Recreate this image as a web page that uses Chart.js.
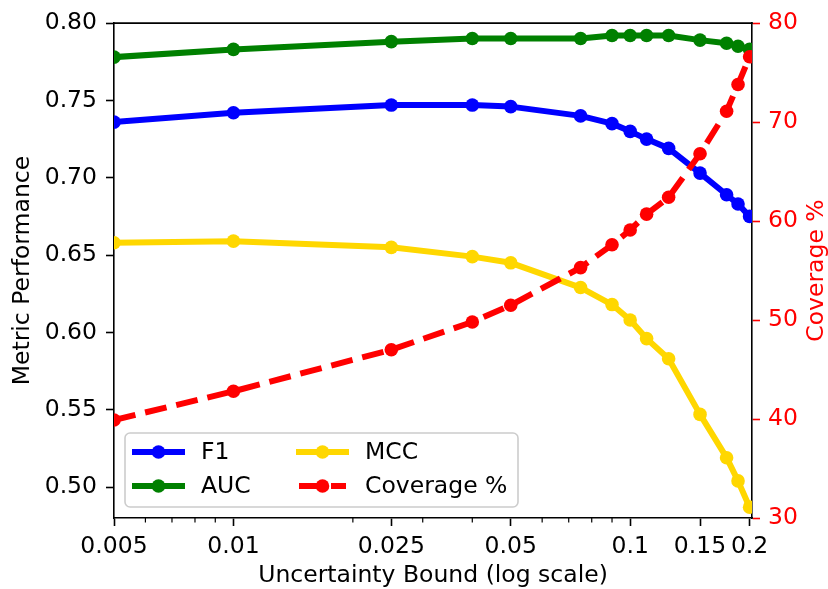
<!DOCTYPE html>
<html>
<head>
    <title>Uncertainty Bound Chart</title>
    <script src="https://cdn.jsdelivr.net/npm/chart.js"></script>
    <style>
        body { margin: 0; background: #fff; }
        #wrap { width: 828px; height: 589px; }
    </style>
</head>
<body>
    <div id="wrap"><canvas id="myChart"></canvas></div>
    <script>
        // data
        const uncertaintyBounds = [0.005, 0.01, 0.025, 0.04, 0.05, 0.075, 0.09, 0.1, 0.11, 0.125, 0.15, 0.175, 0.187, 0.2];
        const f1 = [0.736, 0.742, 0.747, 0.747, 0.746, 0.740, 0.735, 0.730, 0.725, 0.719, 0.703, 0.689, 0.683, 0.675];
        const auc = [0.778, 0.783, 0.788, 0.790, 0.790, 0.790, 0.792, 0.792, 0.792, 0.792, 0.789, 0.787, 0.785, 0.783];
        const mcc = [0.658, 0.659, 0.655, 0.649, 0.645, 0.629, 0.618, 0.608, 0.596, 0.583, 0.547, 0.519, 0.504, 0.487];
        const coverage = [39.9, 42.8, 47.0, 49.8, 51.5, 55.3, 57.6, 59.1, 60.7, 62.4, 66.8, 71.1, 73.8, 76.6];

        const xTicks = [0.005, 0.01, 0.025, 0.05, 0.1, 0.15, 0.2];
        const xTickLabels = ['0.005', '0.01', '0.025', '0.05', '0.1', '0.15', '0.2'];
        const xMinorTicks = [0.006, 0.007, 0.008, 0.009, 0.02, 0.03, 0.04, 0.06, 0.07, 0.08, 0.09];
        const metricTicks = [0.50, 0.55, 0.60, 0.65, 0.70, 0.75, 0.80];
        const coverageTicks = [30, 40, 50, 60, 70, 80];

        const FONT = 'DejaVu Sans';
        const FS = 23.5;
        Chart.defaults.font.family = FONT;
        Chart.defaults.font.size = FS;
        Chart.defaults.color = '#000';

        const pts = ys => uncertaintyBounds.map((x, i) => ({ x: x, y: ys[i] }));

        function series(label, ys, color, axis, order, dash) {
            return {
                label: label,
                data: pts(ys),
                yAxisID: axis,
                order: order,
                borderColor: color,
                backgroundColor: color,
                borderWidth: 6,
                borderDash: dash || [],
                borderCapStyle: dash ? 'butt' : 'square',
                borderJoinStyle: 'round',
                pointRadius: 6.8,
                pointHoverRadius: 6.8,
                pointBorderWidth: 0,
                pointBackgroundColor: color,
                tension: 0,
                clip: 0
            };
        }

        const legendItems = [
            { label: 'F1', color: '#0000ff', dash: null },
            { label: 'AUC', color: '#008000', dash: null },
            { label: 'MCC', color: '#ffd700', dash: null },
            { label: 'Coverage %', color: '#ff0000', dash: [22, 10] }
        ];

        // top spine, minor x ticks, right axis title (reads upward) and the in-axes legend
        const extras = {
            id: 'extras',
            afterDatasetsDraw(chart) {
                const ctx = chart.ctx;
                const a = chart.chartArea;
                const x = chart.scales.x;
                ctx.save();
                ctx.strokeStyle = '#000';
                ctx.lineWidth = 1.6;
                ctx.beginPath();
                ctx.moveTo(a.left - 0.8, a.top);
                ctx.lineTo(a.right + 0.8, a.top);
                ctx.stroke();

                ctx.lineWidth = 1.2;
                xMinorTicks.forEach(v => {
                    const px = x.getPixelForValue(v);
                    ctx.beginPath();
                    ctx.moveTo(px, a.bottom);
                    ctx.lineTo(px, a.bottom + 4.5);
                    ctx.stroke();
                });

                ctx.font = FS + 'px "' + FONT + '"';

                // right axis title
                ctx.save();
                ctx.translate(chart.width - 11, (a.top + a.bottom) / 2);
                ctx.rotate(-Math.PI / 2);
                ctx.fillStyle = '#ff0000';
                ctx.textAlign = 'center';
                ctx.textBaseline = 'middle';
                ctx.fillText('Coverage %', 0, 0);
                ctx.restore();

                // legend box
                const bx = a.left + 11, by = a.bottom - 85, bw = 393, bh = 74;
                ctx.beginPath();
                ctx.roundRect(bx, by, bw, bh, 5);
                ctx.fillStyle = 'rgba(255,255,255,0.8)';
                ctx.fill();
                ctx.strokeStyle = '#cccccc';
                ctx.lineWidth = 1.6;
                ctx.stroke();

                ctx.textBaseline = 'middle';
                ctx.textAlign = 'left';
                legendItems.forEach((it, i) => {
                    const col = Math.floor(i / 2), row = i % 2;
                    const hx = bx + 10 + col * 164;
                    const hy = by + 19 + row * 34;
                    ctx.strokeStyle = it.color;
                    ctx.lineWidth = 6;
                    ctx.setLineDash(it.dash || []);
                    ctx.lineCap = it.dash ? 'butt' : 'square';
                    ctx.beginPath();
                    ctx.moveTo(hx, hy);
                    ctx.lineTo(hx + 47, hy);
                    ctx.stroke();
                    ctx.setLineDash([]);
                    ctx.fillStyle = it.color;
                    ctx.beginPath();
                    ctx.arc(hx + 23.5, hy, 6.8, 0, Math.PI * 2);
                    ctx.fill();
                    ctx.fillStyle = '#000';
                    ctx.fillText(it.label, hx + 66, hy + 1);
                });
                ctx.restore();
            }
        };

        const ctx = document.getElementById('myChart').getContext('2d');
        const myChart = new Chart(ctx, {
            type: 'line',
            data: {
                datasets: [
                    series('F1', f1, '#0000ff', 'y', 3),
                    series('AUC', auc, '#008000', 'y', 2),
                    series('MCC', mcc, '#ffd700', 'y', 1),
                    series('Coverage %', coverage, '#ff0000', 'y1', 0, [22, 10])
                ]
            },
            plugins: [extras],
            options: {
                responsive: true,
                maintainAspectRatio: false,
                devicePixelRatio: 1,
                animation: false,
                events: [],
                layout: { padding: { top: 22, left: 0, right: 0, bottom: 0 } },
                plugins: {
                    legend: { display: false },
                    tooltip: { enabled: false }
                },
                scales: {
                    x: {
                        type: 'logarithmic',
                        position: 'bottom',
                        min: 0.005,
                        max: 0.2028,
                        afterBuildTicks: s => { s.ticks = xTicks.map(v => ({ value: v })); },
                        afterFit: s => { s.height = 71; },
                        ticks: {
                            autoSkip: false,
                            maxRotation: 0,
                            padding: 7,
                            callback: (v, i) => xTickLabels[i]
                        },
                        grid: { drawOnChartArea: false, tickLength: 8, tickWidth: 1.6, tickColor: '#000' },
                        border: { display: true, color: '#000', width: 1.6 },
                        title: {
                            display: true,
                            text: 'Uncertainty Bound (log scale)',
                            font: { size: FS, lineHeight: 1 },
                            padding: { top: 0, bottom: 1 }
                        }
                    },
                    y: {
                        type: 'linear',
                        position: 'left',
                        min: 0.48,
                        max: 0.80,
                        afterBuildTicks: s => { s.ticks = metricTicks.map(v => ({ value: v })); },
                        afterFit: s => { s.width = 114; },
                        ticks: {
                            padding: 9,
                            callback: v => v.toFixed(2)
                        },
                        grid: { drawOnChartArea: false, tickLength: 8, tickWidth: 1.6, tickColor: '#000' },
                        border: { display: true, color: '#000', width: 1.6 },
                        title: {
                            display: true,
                            text: 'Metric Performance',
                            font: { size: FS, lineHeight: 1 },
                            padding: { top: 11, bottom: 0 }
                        }
                    },
                    y1: {
                        type: 'linear',
                        position: 'right',
                        min: 30,
                        max: 80,
                        afterBuildTicks: s => { s.ticks = coverageTicks.map(v => ({ value: v })); },
                        afterFit: s => { s.width = 76; },
                        ticks: {
                            color: '#ff0000',
                            padding: 8,
                            callback: v => String(v)
                        },
                        grid: { drawOnChartArea: false, tickLength: 8, tickWidth: 1.6, tickColor: '#ff0000' },
                        border: { display: true, color: '#000', width: 1.6 },
                        title: { display: false }
                    }
                }
            }
        });
    </script>
</body>
</html>
